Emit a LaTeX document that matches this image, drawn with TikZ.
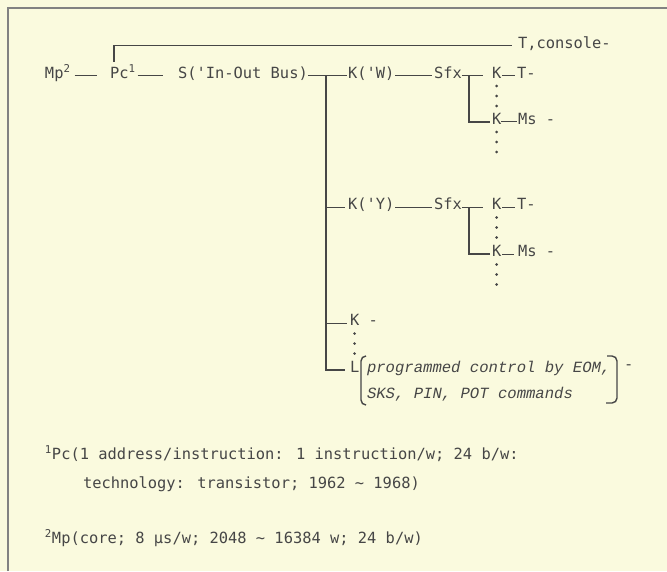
\documentclass[tikz,border=0pt]{standalone}
\usepackage{fontspec}
\newfontfamily\mono{DejaVu Sans Mono}[Ligatures=TeXOff]
\newfontfamily\tyit{Liberation Mono}[Ligatures=TeXOff]
\usetikzlibrary{calc}
\definecolor{bg}{RGB}{250,250,222}
\definecolor{ink}{RGB}{70,70,70}
\definecolor{framec}{RGB}{130,130,130}
\begin{document}
\begin{tikzpicture}[x=1pt,y=-1pt,
  txt/.style={inner sep=0pt, outer sep=0pt, anchor=base west, text=ink, font=\mono\fontsize{15.4}{18}\selectfont},
  itx/.style={inner sep=0pt, outer sep=0pt, anchor=base west, text=ink, font=\tyit\itshape\fontsize{15.6}{18}\selectfont},
  wire/.style={draw=ink, line width=1.3pt},
  trunkw/.style={draw=ink, line width=2pt, line join=miter},
  brk/.style={draw=ink, line width=1.4pt}
]
\useasboundingbox (0,0) rectangle (667,571);
\fill[bg] (0,0) rectangle (667,571);
\draw[framec, line width=1.2pt] (8,571) -- (8,8) -- (667,8);

\node[txt] (mp) at (45,78) {Mp\textsuperscript{2}};
\node[txt] (pc) at (110,78) {Pc\textsuperscript{1}};
\node[txt] (bus) at (178,78) {S('In-Out Bus)};
\node[txt] (tc) at (518,48) {T,console-};
\node[txt] (kw) at (348,78) {K('W)};
\node[txt] (sw) at (434,78) {Sfx};
\node[txt] (kw1) at (492,78) {K};
\node[txt] (tw) at (517,78) {T-};
\node[txt] (kw2) at (492,124) {K};
\node[txt] (mw) at (518,124) {Ms -};
\node[txt] (ky) at (348,209.5) {K('Y)};
\node[txt] (sy) at (434,209.5) {Sfx};
\node[txt] (ky1) at (492,209.5) {K};
\node[txt] (ty) at (517,209.5) {T-};
\node[txt] (ky2) at (492,256.5) {K};
\node[txt] (my) at (518,256.5) {Ms -};
\node[txt] (kk) at (350,325.5) {K -};
\node[txt] (ll) at (350,372) {L};
\node[itx] (p1) at (367,372) {programmed control by EOM,};
\node[itx] (p2) at (367,398) {SKS, PIN, POT commands};
\node[txt] (dash) at (624,369) {-};
\node[txt] (f1) at (45,459) {\textsuperscript{1}Pc(1 address/instruction: 1 instruction/w; 24 b/w:};
\node[txt] (f1b) at (83,488) {technology: transistor; 1962 \textasciitilde{} 1968)};
\node[txt] (f2) at (45,543) {\textsuperscript{2}Mp(core; 8 µs/w; 2048 \textasciitilde{} 16384 w; 24 b/w)};

% main row
\draw[wire] ([xshift=4pt]mp.mid east) -- ([xshift=-13pt]pc.mid west);
\draw[wire] ([xshift=2pt]pc.mid east) -- ([xshift=-15pt]bus.mid west);
\draw[wire] ([xshift=4pt,yshift=3pt]pc.north west) |- ([xshift=-6pt]tc.mid west);
\draw[wire] (bus.mid east) -- ([xshift=-1pt]kw.mid west);
\coordinate (jt) at (326,78);
\draw[trunkw] (jt |- kw.mid west) -- (jt |- ll.mid west) -- ([xshift=-5pt]ll.mid west);
\draw[wire] (jt |- ky.mid west) -- ([xshift=-3pt]ky.mid west);
\draw[wire] (jt |- kk.mid west) -- ([xshift=-3pt]kk.mid west);

% W group
\draw[wire] ([xshift=1pt]kw.mid east) -- ([xshift=-2pt]sw.mid west);
\draw[wire] (sw.mid east) -- ([xshift=-9pt]kw1.mid west);
\coordinate (fw) at (469,78);
\draw[trunkw] (fw |- sw.mid east) -- (fw |- kw2.mid west) -- ([xshift=-2pt]kw2.mid west);
\draw[wire] ([xshift=1pt]kw1.mid east) -- ([xshift=-2pt]tw.mid west);
\draw[wire] (kw2.mid east) -- ([xshift=-1pt]mw.mid west);

% Y group
\draw[wire] ([xshift=1pt]ky.mid east) -- ([xshift=-2pt]sy.mid west);
\draw[wire] (sy.mid east) -- ([xshift=-9pt]ky1.mid west);
\draw[trunkw] (fw |- sy.mid east) -- (fw |- ky2.mid west) -- ([xshift=-2pt]ky2.mid west);
\draw[wire] ([xshift=1pt]ky1.mid east) -- ([xshift=-2pt]ty.mid west);
\draw[wire] ([xshift=1pt]ky2.mid east) -- ([xshift=-4pt]my.mid west);

% dots
\foreach \n in {kw1,kw2,ky1,ky2}
  \foreach \d in {8,18,28}
    \fill[ink] ($(\n.base)+(0,\d)$) circle (1.4pt);
\foreach \d in {8,18,28}
  \fill[ink] ($(kk.base west)+(4.6,\d)$) circle (1.4pt);

% brackets
\draw[brk] (366,356) to[out=180,in=90] (361,361) -- (361,400) to[out=-90,in=180] (366,405);
\draw[brk] (607,356) -- (612,356) to[out=0,in=90] (617,361) -- (617,398) to[out=-90,in=0] (612,403) -- (606,403);
\end{tikzpicture}
\end{document}
